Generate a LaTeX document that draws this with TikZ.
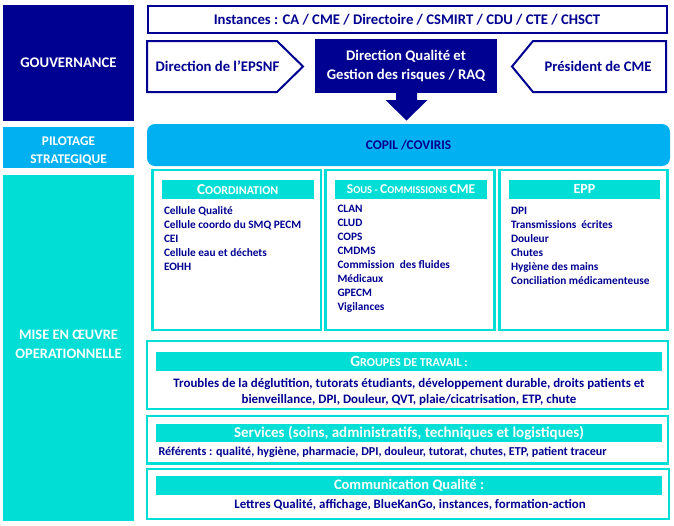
\documentclass[tikz,border=0pt]{standalone}
\usepackage{fontspec}
\setmainfont{Carlito}
\definecolor{navy}{RGB}{0,0,145}
\definecolor{turq}{RGB}{0,222,214}
\definecolor{lblue}{RGB}{0,176,240}
\newcommand\fs[1]{\fontsize{#1}{#1}\selectfont}
\newcommand\scbig{\fontsize{13.5}{14}\selectfont}
\newcommand\scsmall{\fontsize{10.5}{14}\selectfont}
\begin{document}
\begin{tikzpicture}[x=1pt,y=-1pt,
  every node/.style={font=\bfseries, inner sep=0pt, outer sep=0pt},
  sidebox/.style={rectangle, text=white, align=center},
  navybox/.style={rectangle, draw=navy, line width=2pt, fill=white, text=navy},
  navyline/.style={draw=navy, line width=2pt, fill=white, line join=miter},
  turqbox/.style={rectangle, draw=turq, line width=2.5pt, fill=white},
  header/.style={rectangle, fill=turq, text=white},
  item/.style={text=navy, font=\bfseries\fs{11.3}, anchor=base west},
  body/.style={text=navy, font=\bfseries\fs{12.9}, anchor=base},
]
\useasboundingbox (0,0) rectangle (674,525);
% left column
\node[sidebox, fill=navy, minimum width=131, minimum height=116, font=\bfseries\fs{14.7}] (gouv) at (68.5,63) {GOUVERNANCE};
\node[sidebox, fill=lblue, minimum width=131, minimum height=41] (pilot) at (68.5,147.5) {};
\node[text=white, align=center, font=\bfseries\fontsize{13.3}{18}\selectfont] (pilottxt) at (68.5,150.5) {PILOTAGE\\STRATEGIQUE};
\node[sidebox, fill=turq, minimum width=131, minimum height=346] (mise) at (68.5,348) {};
\node[text=white, align=center, font=\bfseries\fontsize{14.4}{19}\selectfont] (misetxt) at (68.5,344) {MISE EN ŒUVRE\\OPERATIONNELLE};
% top
\node[navybox, minimum width=519, minimum height=27, font=\bfseries\fs{14.7}] (inst) at (407,19.5) {Instances : CA / CME / Directoire / CSMIRT / CDU / CTE / CHSCT};
\draw[navyline] (147,41) -- (277,41) -- (303,66.5) -- (277,92) -- (147,92) -- cycle;
\node[text=navy, font=\bfseries\fs{14.7}] (epsnf) at (217.5,66.5) {Direction de l’EPSNF};
\draw[navyline] (666,41) -- (533,41) -- (512,66.5) -- (533,92) -- (666,92) -- cycle;
\node[text=navy, font=\bfseries\fs{14.6}] (pres) at (598,66.5) {Président de CME};
\node[rectangle, fill=navy, text=white, minimum width=182, minimum height=54, align=center, font=\bfseries\fontsize{14.7}{19.3}\selectfont] (dqr) at (406,66) {Direction Qualité et\\Gestion des risques / RAQ};
\fill[navy] (396,92) -- (417,92) -- (417,100) -- (427.5,100) -- (406.5,120.5) -- (385.5,100) -- (396,100) -- cycle;
% pilotage
\node[rectangle, rounded corners=8pt, fill=lblue, text=navy, minimum width=523, minimum height=42, font=\bfseries\fs{13.3}] (copil) at (408.5,145) {COPIL /COVIRIS};
% three boxes
\node[turqbox, minimum width=168.5, minimum height=160] (coord) at (236.75,250) {};
\node[turqbox, minimum width=169.2, minimum height=160] (sous) at (410.1,250) {};
\node[turqbox, minimum width=167.6, minimum height=160] (epp) at (583.5,250) {};
\node[header, minimum width=151.5, minimum height=18.5] (coordh) at (237.75,189.25) {{\fontsize{15.2}{16}\selectfont C}{\fontsize{12}{16}\selectfont OORDINATION}};
\node[header, minimum width=152, minimum height=18.5] (soush) at (411,189.25) {{\scbig S}{\scsmall OUS - }{\scbig C}{\scsmall OMMISSIONS }{\scbig CME}};
\node[header, minimum width=151, minimum height=18.5, font=\bfseries\fs{14}] (epph) at (584.5,189.25) {EPP};
\foreach \t [count=\i] in {Cellule Qualité, Cellule coordo du SMQ PECM, CEI, Cellule eau et déchets, EOHH}
  \node[item] (ci\i) at (164,200.5+14*\i) {\t};
\foreach \t [count=\i] in {CLAN, CLUD, COPS, CMDMS, Commission\ \ des fluides, Médicaux, GPECM, Vigilances}
  \node[item] (si\i) at (337.5,198.5+14*\i) {\t};
\foreach \t [count=\i] in {DPI, Transmissions\ \ écrites, Douleur, Chutes, Hygiène des mains, Conciliation médicamenteuse}
  \node[item] (ei\i) at (511,200.5+14*\i) {\t};
% bottom boxes
\node[turqbox, minimum width=521, minimum height=68] (grp) at (407.5,375) {};
\node[header, minimum width=506, minimum height=19] (grph) at (409,361.5) {{\fontsize{15.5}{16}\selectfont G}{\fontsize{12.1}{16}\selectfont ROUPES DE TRAVAIL :}};
\node[body] (grp1) at (409,387.5) {Troubles de la déglutition, tutorats étudiants, développement durable, droits patients et};
\node[body] (grp2) at (409,403.2) {bienveillance, DPI, Douleur, QVT, plaie/cicatrisation, ETP, chute};
\node[turqbox, minimum width=521, minimum height=47.5] (serv) at (407.5,439.75) {};
\node[header, minimum width=506, minimum height=18.5, font=\bfseries\fs{15}] (servh) at (409,432.75) {Services (soins, administratifs, techniques et logistiques)};
\node[body, font=\bfseries\fs{12.1}, anchor=base west] (ref) at (158.5,455.8) {Référents : qualité, hygiène, pharmacie, DPI, douleur, tutorat, chutes, ETP, patient traceur};
\node[turqbox, minimum width=522, minimum height=50] (comm) at (408,494) {};
\node[header, minimum width=506, minimum height=19, font=\bfseries\fs{14.5}] (commh) at (409,485.5) {Communication Qualité :};
\node[body] (commt) at (410,508.3) {Lettres Qualité, affichage, BlueKanGo, instances, formation-action};
\end{tikzpicture}
\end{document}
